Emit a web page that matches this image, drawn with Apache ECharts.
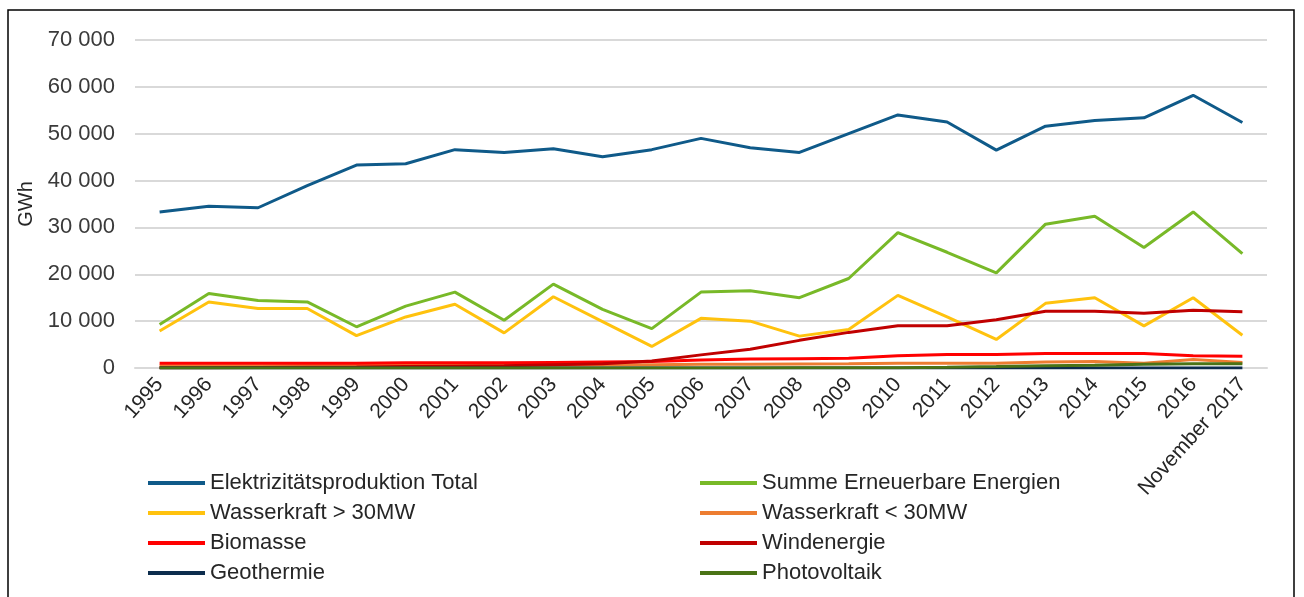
<!DOCTYPE html>
<html>
<head>
<meta charset="utf-8">
<script src="https://cdn.jsdelivr.net/npm/echarts@6/dist/echarts.min.js"></script>
<style>
  html, body { margin: 0; padding: 0; background: #fff; }
  #chart { width: 1304px; height: 597px; }
</style>
</head>
<body>
<div id="chart"></div>
<script>
// categories and values (GWh)
var years = ['1995', '1996', '1997', '1998', '1999', '2000', '2001', '2002', '2003', '2004', '2005',
  '2006', '2007', '2008', '2009', '2010', '2011', '2012', '2013', '2014', '2015', '2016', 'November 2017'];

var total        = [33300, 34500, 34200, 38900, 43300, 43600, 46600, 46000, 46800, 45100, 46600,
  49000, 47000, 46000, 50000, 54000, 52500, 46500, 51600, 52800, 53400, 58200, 52400];
var erneuerbar   = [9300, 15900, 14400, 14100, 8800, 13200, 16200, 10200, 17900, 12500, 8400,
  16200, 16500, 15000, 19100, 28900, 24700, 20300, 30700, 32400, 25700, 33300, 24400];
var wasserGross  = [7900, 14100, 12700, 12700, 6900, 10900, 13600, 7500, 15200, 9900, 4600,
  10600, 10000, 6800, 8200, 15500, 10900, 6100, 13800, 15000, 9000, 15000, 7000];
var wasserKlein  = [500, 500, 500, 550, 550, 600, 600, 650, 650, 700, 700,
  800, 800, 850, 900, 1000, 1000, 1000, 1300, 1400, 1000, 1800, 1200];
var biomasse     = [1000, 1000, 1000, 1000, 1000, 1100, 1100, 1100, 1200, 1300, 1400,
  1700, 1900, 2000, 2100, 2600, 2900, 2900, 3100, 3100, 3100, 2600, 2500];
var wind         = [50, 50, 100, 150, 200, 300, 400, 500, 700, 900, 1500,
  2800, 4000, 5900, 7600, 9000, 9000, 10300, 12100, 12100, 11700, 12300, 12000];
var geothermie   = [0, 0, 0, 0, 0, 0, 0, 0, 0, 0, 0,
  0, 0, 0, 10, 10, 10, 10, 20, 20, 20, 20, 20];
var photovoltaik = [10, 10, 10, 10, 10, 10, 10, 10, 10, 10, 10,
  20, 20, 30, 50, 80, 150, 300, 500, 600, 800, 900, 900];

var names = ['Elektrizitätsproduktion Total', 'Summe Erneuerbare Energien', 'Wasserkraft > 30MW',
  'Wasserkraft < 30MW', 'Biomasse', 'Windenergie', 'Geothermie', 'Photovoltaik'];
var colors = ['#0f5a89', '#78b928', '#ffc20e', '#ed7d31', '#ff0000', '#c00000', '#0d2d4d', '#4a7316'];
var values = [total, erneuerbar, wasserGross, wasserKlein, biomasse, wind, geothermie, photovoltaik];

var font = 'Liberation Sans, Arial, sans-serif';

var chart = echarts.init(document.getElementById('chart'));

var series = names.map(function (n, i) {
  return {
    name: n,
    type: 'line',
    data: values[i],
    showSymbol: false,
    symbol: 'none',
    lineStyle: { width: 3, color: colors[i] },
    itemStyle: { color: colors[i] },
    emphasis: { disabled: true }
  };
});

var legendBase = {
  orient: 'vertical',
  top: 472,
  icon: 'rect',
  itemWidth: 57,
  itemHeight: 4,
  itemGap: 8,
  padding: 0,
  textStyle: { fontFamily: font, fontSize: 22, color: '#262626', lineHeight: 22, padding: [0, 0, 0, 0] }
};

chart.setOption({
  animation: false,
  color: colors,
  graphic: [{
    type: 'rect',
    shape: { x: 8, y: 10, width: 1286, height: 620 },
    style: { fill: 'none', stroke: '#000', lineWidth: 1.5 },
    silent: true
  }],
  legend: [
    Object.assign({}, legendBase, { left: 148, data: [names[0], names[2], names[4], names[6]] }),
    Object.assign({}, legendBase, { left: 700, data: [names[1], names[3], names[5], names[7]] })
  ],
  grid: { left: 135, right: 37, top: 40, bottom: 229, containLabel: false },
  xAxis: {
    type: 'category',
    data: years,
    boundaryGap: true,
    axisLine: { show: true, lineStyle: { color: '#d9d9d9', width: 2 } },
    axisTick: { show: false },
    axisLabel: {
      rotate: 48,
      interval: 0,
      margin: 13,
      fontFamily: font,
      fontSize: 21,
      color: '#262626'
    }
  },
  yAxis: {
    type: 'value',
    min: 0,
    max: 70000,
    interval: 10000,
    name: 'GWh',
    nameLocation: 'middle',
    nameRotate: 90,
    nameGap: 97,
    nameTextStyle: { fontFamily: font, fontSize: 20, color: '#262626' },
    axisLine: { show: false },
    axisTick: { show: false },
    splitLine: { lineStyle: { color: '#d9d9d9', width: 2 } },
    axisLabel: {
      margin: 20,
      fontFamily: font,
      fontSize: 22,
      color: '#3a3a3a',
      formatter: function (v) {
        return String(v).replace(/\B(?=(\d{3})+(?!\d))/g, ' ');
      }
    }
  },
  series: series
});
</script>
</body>
</html>
